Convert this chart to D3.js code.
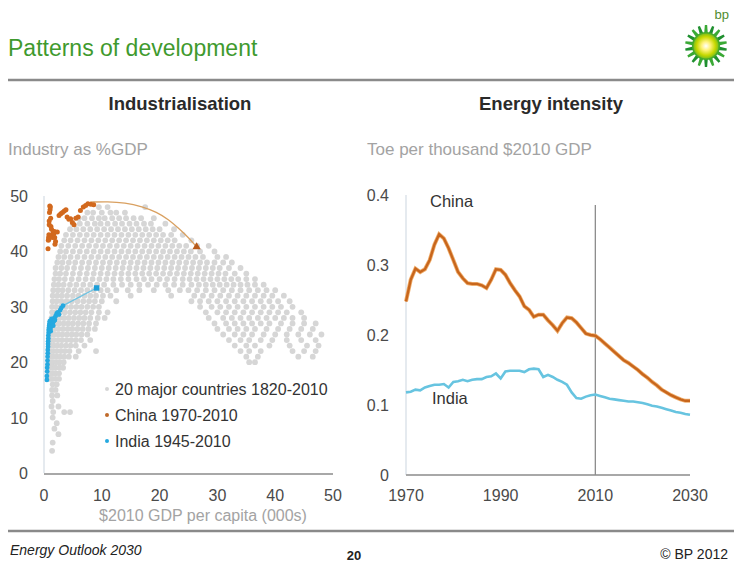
<!DOCTYPE html>
<html><head><meta charset="utf-8">
<script src="https://cdn.jsdelivr.net/npm/d3@7"></script>
<style>body{margin:0;background:#fff}svg{display:block;font-family:"Liberation Sans",Arial,sans-serif}</style>
</head><body><svg id="c" width="734" height="571"></svg>
<script>
// ---------- data ----------
const leftTicks = [0,10,20,30,40,50];
const rightYTicks = [0,0.1,0.2,0.3,0.4];
const rightYLabels = ["0","0.1","0.2","0.3","0.4"];
const rightXTicks = [1970,1990,2010,2030];
const years = d3.range(1970,2031);
const chinaIntensity = [0.248,0.279,0.295,0.290,0.294,0.307,0.329,0.344,0.338,0.324,0.307,0.290,0.281,0.274,0.273,0.273,0.271,0.267,0.279,0.294,0.293,0.286,0.274,0.264,0.255,0.241,0.236,0.226,0.229,0.229,0.221,0.214,0.206,0.217,0.225,0.224,0.218,0.210,0.202,0.200,0.199,0.194,0.188,0.182,0.176,0.170,0.164,0.160,0.155,0.150,0.144,0.139,0.133,0.128,0.122,0.118,0.114,0.111,0.108,0.106,0.106];
const indiaIntensity = [0.118,0.119,0.122,0.121,0.125,0.127,0.129,0.129,0.130,0.125,0.133,0.134,0.136,0.134,0.136,0.137,0.137,0.140,0.141,0.145,0.138,0.148,0.149,0.149,0.149,0.147,0.151,0.152,0.151,0.140,0.143,0.140,0.136,0.133,0.129,0.118,0.110,0.109,0.112,0.114,0.115,0.113,0.111,0.109,0.108,0.107,0.106,0.105,0.105,0.104,0.103,0.101,0.099,0.098,0.096,0.094,0.092,0.090,0.089,0.087,0.086];
// 20 major countries: rows of [industry %GDP, [GDP per capita values]]
const countryRows = [
 [48,[9.5,11,17.5]],
 [47,[7.5,8.5,10,11.5,12.5,14]],
 [46,[6,7,8.3,9.5,10.5,11.8,13,14.2,15.5,16.8,19]],
 [45,[5,6.2,7.5,8.8,9.8,11,12.3,13.5,14.8,16,17.3,18.5,21]],
 [44,[4.5,5.6,6.8,8,9.2,10.4,11.6,12.8,14,15.2,16.4,17.6,18.8,20,22.5]],
 [43,[3.8,5,6.2,7.4,8.6,9.8,11,12.2,13.4,14.6,15.8,17,18.2,19.4,20.6,22,24]],
 [42,[3.5,4.6,5.8,7,8.2,9.4,10.6,11.8,13,14.2,15.4,16.6,17.8,19,20.2,21.4,22.6,25.5]],
 [41,[3,4.2,5.4,6.6,7.8,9,10.2,11.4,12.6,13.8,15,16.2,17.4,18.6,19.8,21,22.2,23.4,24.6,26.5,28.5]],
 [40,[2.8,3.8,5,6.2,7.4,8.6,9.8,11,12.2,13.4,14.6,15.8,17,18.2,19.4,20.6,21.8,23,24.2,25.4,27,29.5]],
 [39,[2.5,3.5,4.6,5.8,7,8.2,9.4,10.6,11.8,13,14.2,15.4,16.6,17.8,19,20.2,21.4,22.6,23.8,25,26.2,27.5,30,31.5]],
 [38,[2.3,3.2,4.3,5.4,6.6,7.8,9,10.2,11.4,12.6,13.8,15,16.2,17.4,18.6,19.8,21,22.2,23.4,24.6,25.8,27,28.2,29.5,31,32.5]],
 [37,[2,3,4,5.2,6.4,7.6,8.8,10,11.2,12.4,13.6,14.8,16,17.2,18.4,19.6,20.8,22,23.2,24.4,25.6,26.8,28,29.2,30.4,32,34]],
 [36,[2,2.8,3.8,5,6.2,7.4,8.6,9.8,11,12.2,13.4,14.6,15.8,17,18.2,19.4,20.6,21.8,23,24.2,25.4,26.6,27.8,29,30.2,31.4,33,35]],
 [35,[1.8,2.6,3.6,4.8,6,7.2,8.4,9.6,10.8,12,13.3,14.6,16,17.3,18.6,20,21.3,22.6,24,25.2,26.4,27.6,28.8,30,31.2,32.4,33.6,35,36.5]],
 [34,[1.7,2.5,3.4,4.5,5.6,6.8,8,9.2,10.4,12,13.5,15,16.5,18,19.5,21,22.5,24,25.5,26.8,28,29.2,30.4,31.6,32.8,34,35.2,36.5,38]],
 [33,[1.6,2.4,3.2,4.2,5.3,6.4,7.5,8.6,9.8,11,12.5,14.5,16.5,19,21.5,23.5,25,26.5,28,29.5,31,32.5,34,35.5,37,38.5,40]],
 [32,[1.5,2.3,3.1,4,5,6,7,8,9,10.2,11.5,15,22,26,27.5,29,30.5,32,33.5,35,36.5,38,39.5,41.5]],
 [31,[1.5,2.2,3,3.9,4.8,5.8,6.8,7.8,8.8,10,12.5,25.5,27,28.5,30,31.5,33,34.5,36,37.5,39,40.5,42.5]],
 [30,[1.4,2.1,2.9,3.8,4.7,5.6,6.5,7.5,8.5,9.5,27,29,30.5,32,33.5,35,36.5,38,39.5,41,43]],
 [29,[1.4,2,2.8,3.6,4.5,5.4,6.3,7.2,8.2,9.5,11,28,30,31.5,33,34.5,36,37.5,39,40.5,42,44.5]],
 [28,[1.3,2,2.7,3.5,4.3,5.2,6.1,7,8,9.3,10.5,28.5,31,32.5,34,35.5,37,38.5,40,41.5,43,45]],
 [27,[1.3,1.9,2.6,3.4,4.2,5,5.9,6.8,7.8,9,29.5,31.5,33,34.5,36,37.5,39,41,43,45,47]],
 [26,[1.2,1.8,2.5,3.3,4.1,4.9,5.8,6.7,7.7,8.8,30,32,33.5,35,36.5,38.5,40.5,42.5,44.5,46.5]],
 [25,[1.2,1.8,2.5,3.2,4,4.8,5.6,6.5,7.5,31,33,34.5,36,38,40,42,44,46,48]],
 [24,[1.2,1.7,2.4,3.1,3.9,4.7,5.5,6.4,8,32,34,35.5,37.5,39.5,42,44.5,47]],
 [23,[1.1,1.7,2.3,3,3.8,4.6,5.5,7,33,35,36.5,39,42.5,45.5,47.5]],
 [22,[1.1,1.6,2.2,2.9,3.6,4.4,6,9,34,35.5,37.5,43,45,47]],
 [21,[1.1,1.6,2.2,2.8,3.5,4.3,5.5,35,37,44,46.5]],
 [20,[1,1.5,2.1,2.7,3.4,35.5,36.5]],
 [19,[1,1.5,2,2.7,3.3]],
 [18,[1,1.5,2,2.6]],
 [17,[1,1.4,2,2.6]],
 [16,[1.5,2.2]],
 [15,[1.4,2]],
 [14,[1.4,2.3]],
 [13,[1.5]],
 [12,[1.3,2.5]],
 [11,[1.6,3.5,4.5]],
 [10,[1.5]],
 [9,[2.2]],
 [8,[1.8]],
 [7,[2.5]],
 [5.5,[1.5]],
 [4,[1.4]]
];
// China 1970-2010 [GDP per capita, industry %GDP]
const chinaPoints = [[0.7,40.5],[0.75,42.0],[0.8,42.5],[0.85,43.0],[0.85,42.2],[0.9,45.5],[0.9,44.8],[0.95,47.0],[1.0,48.2],[1.05,47.5],[1.1,48.0],[1.15,46.0],[1.2,44.5],[1.3,44.0],[1.4,43.0],[1.5,42.5],[1.6,43.5],[1.7,43.2],[1.8,43.6],[1.85,42.5],[1.9,41.3],[2.0,41.8],[2.3,43.5],[2.6,46.5],[2.9,46.8],[3.2,47.0],[3.5,47.3],[3.8,47.5],[4.0,46.2],[4.3,45.8],[4.6,45.9],[4.9,45.2],[5.2,44.8],[5.5,46.0],[5.9,46.2],[6.3,47.4],[6.8,48.0],[7.2,48.3],[7.6,48.6],[8.1,48.5],[8.6,48.4]];
const chinaPath = [[8.0,48.9],[11,49.0],[14,48.8],[17,48.1],[19.5,47.1],[21.5,45.8],[23.5,44.0],[25,42.5],[26.4,40.8]];
// India 1945-2010
const indiaPoints = [[0.5,16.8],[0.5,17.5],[0.55,18.3],[0.55,19.0],[0.6,19.6],[0.6,20.3],[0.62,21.0],[0.65,21.6],[0.65,22.2],[0.7,22.8],[0.7,23.3],[0.72,23.8],[0.75,24.3],[0.75,24.8],[0.8,25.3],[0.8,25.8],[0.85,26.2],[0.9,26.6],[0.95,27.0],[1.0,27.4],[1.05,26.8],[1.1,26.0],[1.15,25.6],[1.2,26.4],[1.25,27.2],[1.3,27.8],[1.4,27.5],[1.5,27.0],[1.6,26.6],[1.7,27.4],[1.8,28.0],[1.9,27.6],[2.0,28.3],[2.2,28.8],[2.4,29.0],[2.6,28.6],[2.8,29.4],[3.0,29.8],[3.3,30.2]];
const indiaPath = [[3.3,30.2],[9.1,33.4]];
const legendLabels = ["20 major countries 1820-2010","China 1970-2010","India 1945-2010"];

// ---------- colours ----------
const GRAY="#d6d6d6", ORANGE="#d2691e", BLUE="#25a9e0", CHINA_LINE="#c8661c", INDIA_LINE="#67c4e0";
const TICK="#4a4a4a", SUB="#a3a3a3";

const svg = d3.select("#c");

// header
svg.append("text").attr("x",8).attr("y",56).attr("fill","#3f9a2e").attr("font-size",23).text("Patterns of development");
svg.append("line").attr("x1",8).attr("x2",734).attr("y1",80).attr("y2",80).attr("stroke","#8a8a8a").attr("stroke-width",2.5);
// logo
const logo = svg.append("g").attr("transform","translate(706,46)");
const defs = svg.append("defs");
const rg = defs.append("radialGradient").attr("id","sun");
rg.append("stop").attr("offset","0%").attr("stop-color","#ffffff");
rg.append("stop").attr("offset","35%").attr("stop-color","#fff27a");
rg.append("stop").attr("offset","75%").attr("stop-color","#c6d800");
rg.append("stop").attr("offset","100%").attr("stop-color","#7fbf1a");
const petals = d3.range(18);
logo.selectAll("path.p").data(petals).join("path")
  .attr("d", d => { const a=d*2*Math.PI/18, w=Math.PI/18*0.9;
    const p=(r,t)=>[r*Math.sin(t),-r*Math.cos(t)];
    const q=[p(12,a-w),p(21,a-w*0.35),p(21,a+w*0.35),p(12,a+w)];
    return "M"+q.map(v=>v.join(",")).join("L")+"Z"; })
  .attr("fill", d => d%2 ? "#1f8f2f" : "#3aa935");
logo.append("circle").attr("r",14).attr("fill","#47aa2a");
logo.append("circle").attr("r",12.5).attr("fill","url(#sun)");
svg.append("text").attr("x",729).attr("y",19).attr("text-anchor","end").attr("fill","#4f8c2f").attr("font-size",13).text("bp");

// section titles
svg.append("text").attr("x",180).attr("y",110).attr("text-anchor","middle").attr("font-size",18.5).attr("font-weight","bold").attr("fill","#2a2a2a").text("Industrialisation");
svg.append("text").attr("x",551).attr("y",110).attr("text-anchor","middle").attr("font-size",18.5).attr("font-weight","bold").attr("fill","#2a2a2a").text("Energy intensity");
svg.append("text").attr("x",8).attr("y",155).attr("font-size",17).attr("fill",SUB).text("Industry as %GDP");
svg.append("text").attr("x",367).attr("y",155).attr("font-size",17).attr("fill",SUB).text("Toe per thousand $2010 GDP");

// ---------- left chart ----------
const lx = d3.scaleLinear().domain([0,50]).range([44,333]);
const ly = d3.scaleLinear().domain([0,50]).range([473,196]);
const L = svg.append("g");
L.append("line").attr("x1",lx(0)).attr("x2",lx(0)).attr("y1",ly(50)).attr("y2",ly(0)).attr("stroke","#dde3ea").attr("stroke-width",1.5);
L.append("line").attr("x1",lx(0)).attr("x2",lx(50)).attr("y1",ly(0)+1).attr("y2",ly(0)+1).attr("stroke","#a8a8a8").attr("stroke-width",2);
const countryPts = countryRows.flatMap(([y,xs]) => xs.map(x => [x,y]));
L.append("g").selectAll("circle").data(countryPts).join("circle")
  .attr("cx",d=>lx(d[0])).attr("cy",d=>ly(d[1])).attr("r",2.9).attr("fill",GRAY);
L.append("path").datum(chinaPath).attr("fill","none").attr("stroke","#d9a060").attr("stroke-width",1.3)
  .attr("d", d3.line().x(d=>lx(d[0])).y(d=>ly(d[1])).curve(d3.curveBasis));
L.append("path").datum(indiaPath).attr("fill","none").attr("stroke","#6cc3e3").attr("stroke-width",1.3)
  .attr("d", d3.line().x(d=>lx(d[0])).y(d=>ly(d[1])));
L.append("g").selectAll("circle").data(chinaPoints).join("circle")
  .attr("cx",d=>lx(d[0])).attr("cy",d=>ly(d[1])).attr("r",2.5).attr("fill",ORANGE);
L.append("g").selectAll("circle").data(indiaPoints).join("circle")
  .attr("cx",d=>lx(d[0])).attr("cy",d=>ly(d[1])).attr("r",2.4).attr("fill",BLUE);
const cEnd = chinaPath[chinaPath.length-1];
L.append("path").attr("d", d3.symbol(d3.symbolTriangle,30)()).attr("transform",`translate(${lx(cEnd[0])},${ly(cEnd[1])})`).attr("fill","#b85a1a");
const iEnd = indiaPath[indiaPath.length-1];
L.append("path").attr("d", d3.symbol(d3.symbolSquare,30)()).attr("transform",`translate(${lx(iEnd[0])},${ly(iEnd[1])})`).attr("fill","#1e9fd8");
// axes labels
L.selectAll("text.yl").data(leftTicks).join("text").attr("x",28).attr("y",d=>ly(d)+6).attr("text-anchor","end").attr("font-size",16).attr("fill",TICK).text(d=>d);
L.selectAll("text.xl").data(leftTicks).join("text").attr("x",d=>lx(d)).attr("y",501).attr("text-anchor","middle").attr("font-size",16).attr("fill",TICK).text(d=>d);
L.append("text").attr("x",203).attr("y",521).attr("text-anchor","middle").attr("font-size",16).attr("fill",SUB).text("$2010 GDP per capita (000s)");
// legend
const legColors=[GRAY,"#c06a2a",BLUE];
const lg = L.append("g");
legendLabels.forEach((t,i)=>{
  const y = 389 + i*26;
  lg.append("circle").attr("cx",107).attr("cy",y).attr("r",2).attr("fill",legColors[i]);
  lg.append("text").attr("x",115).attr("y",y+6).attr("font-size",16).attr("fill","#333").text(t);
});

// ---------- right chart ----------
const rx = d3.scaleLinear().domain([1970,2030]).range([406,690]);
const ry = d3.scaleLinear().domain([0,0.4]).range([475,195]);
const R = svg.append("g");
R.append("line").attr("x1",rx(1970)).attr("x2",rx(1970)).attr("y1",ry(0.4)).attr("y2",ry(0)).attr("stroke","#dde3ea").attr("stroke-width",1.5);
R.append("line").attr("x1",rx(1970)).attr("x2",rx(2030)).attr("y1",ry(0)).attr("y2",ry(0)).attr("stroke","#a8a8a8").attr("stroke-width",2);
R.append("line").attr("x1",rx(2010)).attr("x2",rx(2010)).attr("y1",205).attr("y2",ry(0)).attr("stroke","#8c8c8c").attr("stroke-width",1.3);
const rl = d3.line().x((d,i)=>rx(years[i])).y(d=>ry(d));
R.append("path").datum(chinaIntensity).attr("fill","none").attr("stroke","#f0b070").attr("stroke-width",4).attr("d",rl);
R.append("path").datum(chinaIntensity).attr("fill","none").attr("stroke",CHINA_LINE).attr("stroke-width",2.4).attr("d",rl);
R.append("path").datum(indiaIntensity).attr("fill","none").attr("stroke",INDIA_LINE).attr("stroke-width",2.6).attr("d",rl);
R.selectAll("text.yl").data(rightYTicks).join("text").attr("x",389).attr("y",d=>ry(d)+6).attr("text-anchor","end").attr("font-size",16).attr("fill",TICK).text((d,i)=>rightYLabels[i]);
R.selectAll("text.xl").data(rightXTicks).join("text").attr("x",d=>rx(d)).attr("y",501).attr("text-anchor","middle").attr("font-size",16).attr("fill",TICK).text(d=>d);
R.append("text").attr("x",430).attr("y",207).attr("font-size",16.5).attr("fill","#333").text("China");
R.append("text").attr("x",432).attr("y",404).attr("font-size",16.5).attr("fill","#333").text("India");

// footer
svg.append("line").attr("x1",8).attr("x2",734).attr("y1",531).attr("y2",531).attr("stroke","#8a8a8a").attr("stroke-width",2.5);
svg.append("text").attr("x",10).attr("y",555).attr("font-size",14).attr("font-style","italic").attr("fill","#222").text("Energy Outlook 2030");
svg.append("text").attr("x",354).attr("y",560).attr("text-anchor","middle").attr("font-size",13).attr("font-weight","bold").attr("fill","#222").text("20");
svg.append("text").attr("x",728).attr("y",559).attr("text-anchor","end").attr("font-size",14).attr("fill","#222").text("© BP 2012");
</script></body></html>
